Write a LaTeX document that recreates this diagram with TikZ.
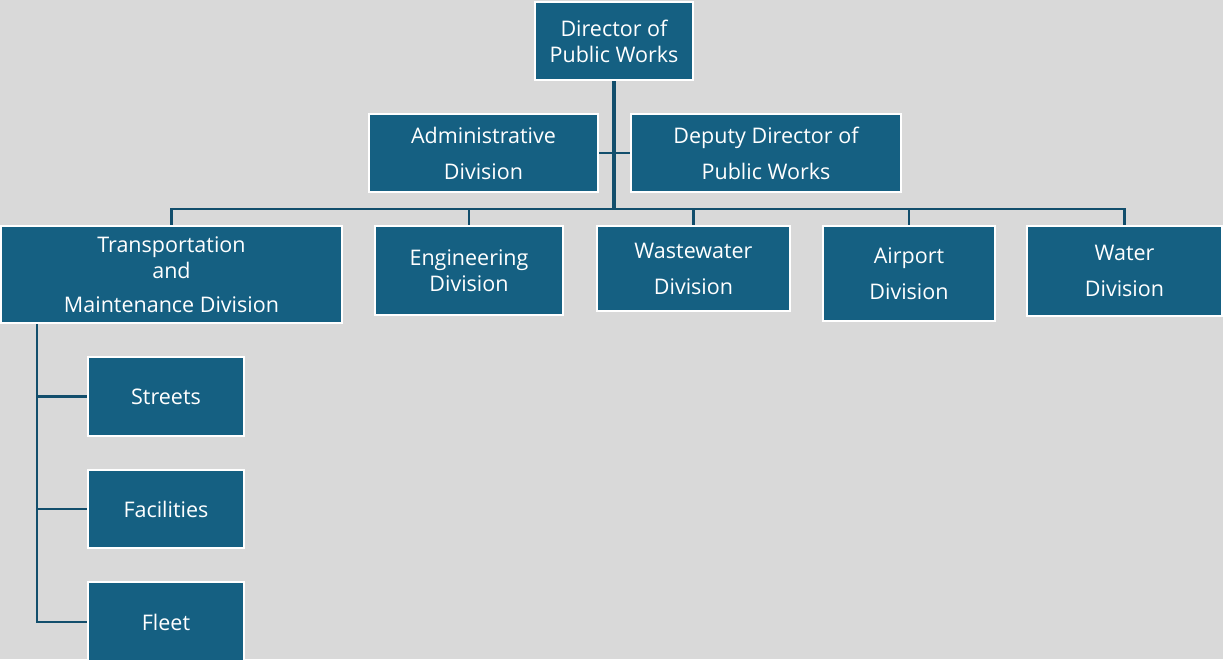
\documentclass[tikz,border=0pt]{standalone}
\usepackage{fontspec}
\setmainfont{Open Sans}
\usetikzlibrary{backgrounds}

\definecolor{pagegray}{HTML}{D9D9D9}
\definecolor{boxblue}{HTML}{156082}
\definecolor{linkblue}{HTML}{124E6C}

\begin{document}
\begin{tikzpicture}[x=1pt,y=-1pt,
  unit/.style={rectangle,fill=boxblue,draw=white,line width=2pt,text=white,
    align=center,inner sep=0pt,font=\fontsize{21.5}{26}\selectfont},
  link/.style={linkblue,line width=2.5pt}]

\useasboundingbox (0,0) rectangle (1223,659);

% top level
\node [unit,minimum width=158,minimum height=78] (dir) at (614,41) {Director of\\Public Works};
\node [unit,minimum width=229,minimum height=78] (admin) at (483.5,153) {Administrative\\[10pt]Division};
\node [unit,minimum width=270,minimum height=78] (deputy) at (766,153) {Deputy Director of\\[10pt]Public Works};

% divisions
\node [unit,minimum width=341,minimum height=97] (trans) at (171.5,274.5) {Transportation\\and\\[8pt]Maintenance Division};
\node [unit,minimum width=188,minimum height=89] (eng) at (469,270.5) {Engineering\\Division};
\node [unit,minimum width=193,minimum height=85] (waste) at (693.5,268.5) {Wastewater\\[10pt]Division};
\node [unit,minimum width=172,minimum height=95] (air) at (909,273.5) {Airport\\[10pt]Division};
\node [unit,minimum width=195,minimum height=90] (water) at (1124.5,271) {Water\\[10pt]Division};

% sections of transportation
\node [unit,minimum width=156,minimum height=79] (streets) at (166,396.5) {Streets};
\node [unit,minimum width=156,minimum height=78] (facil) at (166,509) {Facilities};
\node [unit,minimum width=156,minimum height=80] (fleet) at (166,622) {Fleet};

\coordinate (bus) at (614,209);
\coordinate (spine) at (37,323);

\begin{scope}[on background layer]
\fill [pagegray] (0,0) rectangle (1223,659);

\draw [link,line width=3.5pt] (dir.south) -- (bus);
\draw [link] (admin.east) -- (deputy.west);
\draw [link] (trans.north) |- (bus) -| (water.north);
\draw [link] (eng.north) -- (eng.north |- bus);
\draw [link] (waste.north) -- (waste.north |- bus);
\draw [link] (air.north) -- (air.north |- bus);

\draw [link] (spine) |- (fleet.west);
\draw [link] (spine |- streets.west) -- (streets.west);
\draw [link] (spine |- facil.west) -- (facil.west);
\end{scope}

\end{tikzpicture}
\end{document}
